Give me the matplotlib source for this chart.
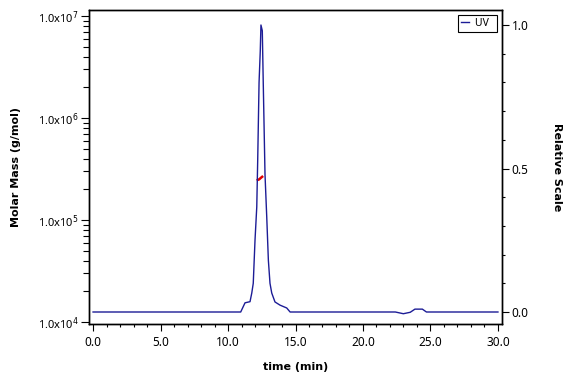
import math
import matplotlib
matplotlib.use("Agg")
import matplotlib.pyplot as plt
from matplotlib.ticker import FixedLocator, FuncFormatter, MultipleLocator, LogLocator, NullFormatter

plt.rcParams['font.family'] = ['Noto Sans', 'DejaVu Sans']

# UV trace (relative scale) vs time (min)
uv_time = [0.0, 10.94, 11.26, 11.63, 11.76, 11.87, 12.0, 12.13, 12.2, 12.3, 12.39, 12.44,
           12.54, 12.61, 12.74, 12.87, 12.99, 13.11, 13.24, 13.48, 13.85, 14.35, 14.6,
           22.4, 22.99, 23.5, 23.85, 24.4, 24.7, 30.0]
uv_rel = [0.0, 0.0, 0.032, 0.036, 0.066, 0.10, 0.25, 0.366, 0.53, 0.80, 0.91, 1.0,
          0.98, 0.80, 0.48, 0.33, 0.18, 0.10, 0.066, 0.035, 0.024, 0.014, 0.0,
          0.0, -0.006, -0.001, 0.010, 0.010, 0.0, 0.0]

# Molar mass (g/mol) across the peak
mm_time = [12.12, 12.3, 12.45, 12.6]
mm_val = [2.45e5, 2.5e5, 2.6e5, 2.7e5]

x_ticks = [0.0, 5.0, 10.0, 15.0, 20.0, 25.0, 30.0]
left_ticks = [1e4, 1e5, 1e6, 1e7]
right_ticks = [0.0, 0.5, 1.0]

uv_color = '#1c1c96'
mm_color = '#e00000'

fig = plt.figure(figsize=(5.76, 3.84), dpi=100)
ax = fig.add_axes([89/576, 1-324/384, (502-89)/576, (324-10)/384])
ax2 = ax.twinx()

ax2.plot(uv_time, uv_rel, color=uv_color, lw=1.0, label='UV')
ax.plot(mm_time, mm_val, color=mm_color, lw=1.8, solid_capstyle='butt')

ax.set_xlim(-0.3, 30.3)
ax.set_yscale('log')
ax.set_ylim(10**(4 - 2/102), 10**(7 + 6/102))
ax2.set_ylim(-12/287, 1 + 15/287)

ax.xaxis.set_major_locator(FixedLocator(x_ticks))
ax.xaxis.set_minor_locator(MultipleLocator(1.0))
ax.xaxis.set_major_formatter(FuncFormatter(lambda v, p: f'{v:.1f}'))

ax.yaxis.set_major_locator(FixedLocator(left_ticks))
ax.yaxis.set_minor_locator(LogLocator(base=10, subs=range(2, 10), numticks=20))
ax.yaxis.set_minor_formatter(NullFormatter())
ax.yaxis.set_major_formatter(FuncFormatter(
    lambda v, p: r'1.0x10$^{%d}$' % round(math.log10(v))))

ax2.yaxis.set_major_locator(FixedLocator(right_ticks))
ax2.yaxis.set_minor_locator(MultipleLocator(0.1))
ax2.yaxis.set_major_formatter(FuncFormatter(lambda v, p: f'{v:.1f}'))

for a in (ax, ax2):
    for s in a.spines.values():
        s.set_linewidth(1.0)
        s.set_color('black')

ax.tick_params(axis='x', which='major', length=5, width=0.8, labelsize=8.5, pad=4)
ax.tick_params(axis='x', which='minor', length=2.5, width=0.8)
ax.tick_params(axis='y', which='major', length=5.5, width=0.8, labelsize=8, pad=2)
ax.tick_params(axis='y', which='minor', length=4, width=0.8)
ax2.tick_params(axis='y', which='major', length=5, width=0.8, labelsize=8.5, pad=2)
ax2.tick_params(axis='y', which='minor', length=2.5, width=0.8)

lab_font = dict(fontsize=8, fontweight='bold', family='DejaVu Sans')
ax.set_xlabel('time (min)', labelpad=9, **lab_font)
ax.set_ylabel('Molar Mass (g/mol)', labelpad=12, **lab_font)
ax2.set_ylabel('Relative Scale', rotation=-90, labelpad=24, **lab_font)

leg = ax2.legend(loc='upper right', fontsize=7.5, frameon=True, fancybox=False,
                 handlelength=0.7, handletextpad=0.6, borderpad=0.3,
                 borderaxespad=0.45)
leg.get_frame().set_edgecolor('black')
leg.get_frame().set_linewidth(0.8)
leg.get_frame().set_alpha(1)
for t in leg.get_texts():
    t.set_text('UV  ')

fig.savefig('out.png', dpi=100)
